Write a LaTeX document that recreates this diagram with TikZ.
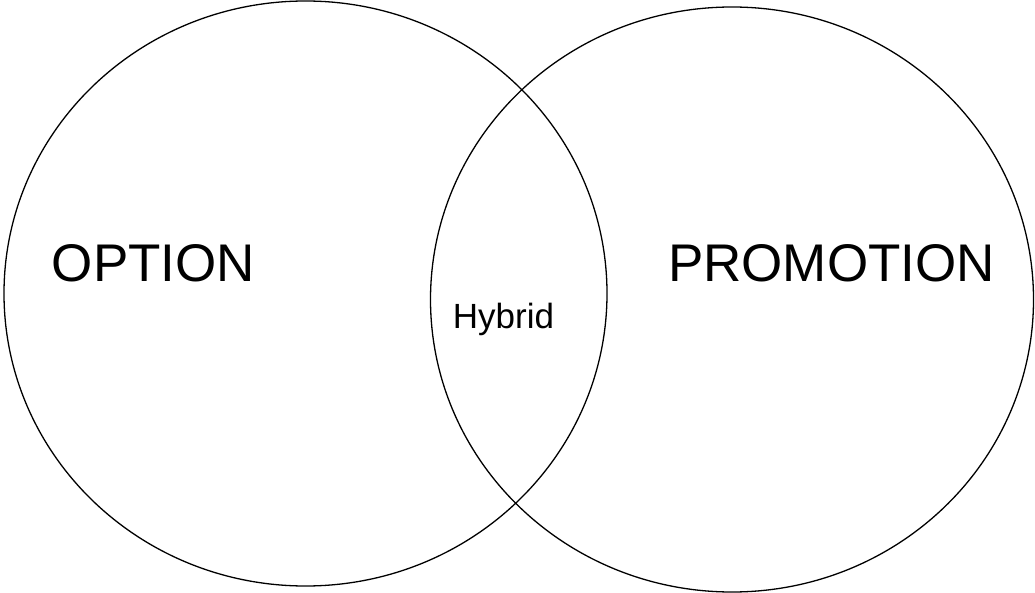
\documentclass[tikz,border=0pt]{standalone}
\usepackage{fontspec}
\setmainfont{Liberation Sans}
\usepackage{tikz}
\usetikzlibrary{shapes.geometric,positioning}

\begin{document}
\begin{tikzpicture}[x=1pt,y=-1pt]
	\tikzstyle{set} = [draw, ellipse, line width=1.3pt, inner sep=0pt, minimum width=603pt, minimum height=585pt]
	\tikzstyle{bigname} = [anchor=base, inner sep=0pt, font=\fontsize{53}{60}\selectfont]
	\tikzstyle{smallname} = [anchor=base, inner sep=0pt, font=\fontsize{35}{40}\selectfont]
	
	\useasboundingbox (0,0) rectangle (1035,593);
	
	\node[set] (option) at (305.5,293.5) {};
	\node[set] (promotion) at (732,299.5) {};
	
	\node[bigname] (optiontext) at (153.5,282) {OPTION};
	\node[bigname] (promotiontext) at (831.5,282) {PROMOTION};
	\node[smallname] (hybrid) at (503.5,328) {Hybrid};
	
\end{tikzpicture}
\end{document}
